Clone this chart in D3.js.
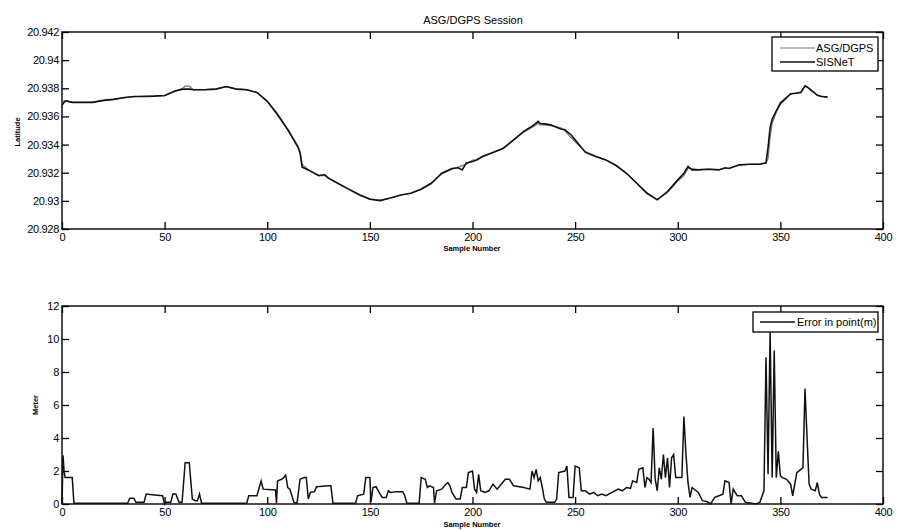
<!DOCTYPE html>
<html>
<head>
<meta charset="utf-8">
<script src="https://cdn.jsdelivr.net/npm/d3@7/dist/d3.min.js"></script>
<style>
  body { margin: 0; background: #fff; }
  svg { font-family: "Liberation Sans", Arial, sans-serif; }
</style>
</head>
<body>
<svg id="chart" width="900" height="530"></svg>
<script>
// ---- data ----
const sampleTop = [0,1,2,5,10,15,20,25,30,35,40,45,50,55,58,60,62,64,65,70,75,80,85,90,95,100,105,110,113,115,116,117,120,125,128,130,135,140,145,150,155,160,165,170,175,180,185,190,193,195,197,200,202,205,210,215,220,225,230,232,233,235,238,240,243,245,248,250,255,260,265,270,275,280,285,290,295,300,303,305,307,310,315,320,323,325,330,335,340,343,344,345,346,348,350,355,358,360,362,363,365,368,370,373];

const sisnet = [20.9368,20.9370,20.9371,20.9370,20.9370,20.9370,20.93714,20.93721,20.93733,20.93742,20.93742,20.93744,20.93749,20.9378,20.93792,20.93794,20.93794,20.9379,20.9379,20.9379,20.93794,20.93813,20.93794,20.9379,20.9377,20.93707,20.93612,20.93505,20.9343,20.9338,20.9334,20.9324,20.9322,20.9318,20.93185,20.9316,20.9312,20.9308,20.93042,20.93011,20.93002,20.9302,20.93042,20.93054,20.93083,20.93125,20.93196,20.9323,20.93235,20.9322,20.9327,20.9328,20.9329,20.93315,20.93344,20.93374,20.93434,20.93493,20.9354,20.93565,20.9355,20.93547,20.9354,20.93529,20.9351,20.93505,20.9347,20.93434,20.93344,20.93315,20.93291,20.93251,20.93196,20.93125,20.93054,20.93007,20.93066,20.93149,20.93196,20.93244,20.9322,20.9322,20.93225,20.9322,20.93235,20.9323,20.93256,20.9326,20.9326,20.9327,20.9338,20.9352,20.9358,20.9364,20.93695,20.93761,20.93765,20.9377,20.93818,20.9381,20.93785,20.9375,20.93742,20.93737];

const asgDgps = [20.9369,20.9371,20.9371,20.9370,20.9370,20.93702,20.93712,20.9372,20.93735,20.9374,20.93744,20.93745,20.93748,20.93778,20.9379,20.93815,20.93815,20.9379,20.9379,20.93792,20.93796,20.9381,20.93796,20.9379,20.93768,20.9371,20.9362,20.9351,20.9344,20.9339,20.9335,20.9326,20.9322,20.93178,20.9318,20.9316,20.9312,20.93082,20.93045,20.93014,20.93005,20.9302,20.9304,20.93056,20.93086,20.93128,20.93192,20.93225,20.9324,20.9325,20.9326,20.9329,20.9329,20.9332,20.93345,20.93372,20.9343,20.9349,20.9353,20.9355,20.9354,20.9354,20.93535,20.9353,20.9352,20.9350,20.9345,20.9342,20.9335,20.93318,20.9329,20.9325,20.93198,20.93128,20.93058,20.9301,20.9306,20.9314,20.9318,20.9323,20.9323,20.93222,20.93226,20.93222,20.9323,20.93232,20.93254,20.9326,20.9326,20.9327,20.9330,20.9345,20.9355,20.9363,20.93685,20.93758,20.9377,20.93775,20.93812,20.9381,20.9379,20.93752,20.93744,20.93738];

const errSample = [0,0.5,1,1.5,5,5.8,32,33,35,36,40,41,45,49,50,50.5,53,54,55.5,57,58.5,60,62,63.5,65,66,67,68,90,91,95,97,98,104,104.5,105,107,108,109,110,111,113,114.5,116,118,119,120,121,123,124,130,131,132,143,144,147,148,150,150.5,151.5,153,155,156,158,159,160,163,166,167,168,174,175,177,178,179,181,181.5,182.5,185,187,188,189,190,191,192,194,195,197,198,200,201,202,203,204,206,208,210,212,214,216,218,220,225,228,229,230,231,232,233,234,235,236,240,241,242,245,246,247,249,250,252,253,255,257,259,261,263,265,268,271,273,275,277,278,280,281,283,284,285,286,287,288,289,290,291,292,293,294,295,296,297,298,299,302,303,304,305,306,307,310,312,314,316,318,320,322,323,325,326,327,329,331,333,338,340,342,343,344,345,346,347,348,349,350,351,353,355,356,358,360,361,362,363,364,365,367,368,369,370,373];

const errMeter = [0,2.95,2.0,1.6,1.6,0.05,0.05,0.35,0.35,0.1,0.1,0.6,0.55,0.5,0.0,0.1,0.1,0.6,0.6,0.1,0.1,2.5,2.5,0.3,0.2,0.2,0.6,0.05,0.05,0.5,0.5,1.4,0.9,0.85,0.05,1.4,1.5,1.6,1.75,1.0,0.9,0.1,0.05,1.5,1.6,1.6,0.3,0.7,0.75,1.05,1.1,1.1,0.05,0.05,0.5,0.6,1.6,1.6,0.1,1.0,1.05,0.6,0.4,0.4,0.8,0.7,0.75,0.75,0.5,0.05,0.05,1.6,1.5,1.0,1.1,1.0,0.05,0.8,0.9,1.2,1.3,1.1,0.7,0.5,0.3,0.3,1.0,1.0,1.9,2.0,0.9,0.7,1.8,0.8,0.7,0.8,1.2,0.9,1.2,1.5,1.5,1.1,1.0,0.9,2.0,1.6,2.1,1.4,1.6,1.0,0.3,0.1,0.1,0.3,1.9,2.0,2.3,0.4,0.4,2.3,2.2,0.8,0.8,0.6,0.7,0.5,0.6,0.5,0.7,0.9,0.8,1.0,0.95,1.4,1.3,2.1,2.2,1.0,1.6,1.5,1.3,4.6,1.5,0.8,2.2,1.5,3.0,1.6,2.8,1.0,2.8,3.0,1.6,1.6,5.3,3.0,1.3,0.4,1.0,0.7,0.2,0.15,0.0,0.4,0.5,0.6,1.4,1.3,0.0,0.9,0.5,0.5,0.1,0.0,0.1,0.8,8.9,1.8,10.5,1.6,9.3,1.6,3.2,1.7,1.6,1.5,1.2,0.5,1.9,2.1,2.2,7.0,4.0,1.2,0.9,0.8,1.3,0.6,0.4,0.4];

const xTicks = [0,50,100,150,200,250,300,350,400];
const yTicksTop = [20.928,20.93,20.932,20.934,20.936,20.938,20.94,20.942];
const yTicksBottom = [0,2,4,6,8,10,12];

const chartTitle = "ASG/DGPS Session";
const xLabel = "Sample Number";
const yLabelTop = "Latitude";
const yLabelBottom = "Meter";
const legendTop = ["ASG/DGPS", "SISNeT"];
const legendBottom = ["Error in point(m)"];

// ---- layout ----
const svg = d3.select("#chart");
const left = 62, right = 883;
const topPanel = { y0: 32, y1: 229 };
const botPanel = { y0: 306, y1: 504 };
const tickLen = 7;

const x = d3.scaleLinear().domain([0, 400]).range([left, right]);

function drawPanel(panel, domain, yTicks, yFmt) {
  const y = d3.scaleLinear().domain(domain).range([panel.y1, panel.y0]);
  const g = svg.append("g");

  const bottom = g.append("g")
    .attr("transform", `translate(0,${panel.y1})`)
    .call(d3.axisBottom(x).tickValues(xTicks).tickSize(-tickLen).tickSizeOuter(0).tickPadding(4));
  const top = g.append("g")
    .attr("transform", `translate(0,${panel.y0})`)
    .call(d3.axisTop(x).tickValues(xTicks).tickSize(-tickLen).tickSizeOuter(0).tickFormat(""));
  const leftAx = g.append("g")
    .attr("transform", `translate(${left},0)`)
    .call(d3.axisLeft(y).tickValues(yTicks).tickSize(-tickLen).tickSizeOuter(0).tickPadding(3).tickFormat(yFmt));
  const rightAx = g.append("g")
    .attr("transform", `translate(${right},0)`)
    .call(d3.axisRight(y).tickValues(yTicks).tickSize(-tickLen).tickSizeOuter(0).tickFormat(""));

  [bottom, top, leftAx, rightAx].forEach(a => {
    a.select(".domain").remove();
    a.selectAll("line").attr("stroke", "#000").attr("stroke-width", 1.3);
    a.selectAll("text").attr("fill", "#000").attr("font-size", 11)
      .attr("letter-spacing", -0.3)
      .attr("font-family", "'Liberation Sans', Arial, sans-serif");
  });

  g.append("rect")
    .attr("x", left).attr("y", panel.y0)
    .attr("width", right - left).attr("height", panel.y1 - panel.y0)
    .attr("fill", "none").attr("stroke", "#000").attr("stroke-width", 1.4);

  return { g, y };
}

// ---- top panel ----
const p1 = drawPanel(topPanel, [20.928, 20.942], yTicksTop, d => String(+d.toFixed(3)));

const lineTop = (vals) => d3.line()
  .x((d, i) => x(sampleTop[i]))
  .y((d) => p1.y(d))(vals);

p1.g.append("path").attr("d", lineTop(asgDgps))
  .attr("fill", "none").attr("stroke", "#777").attr("stroke-width", 1.2);
p1.g.append("path").attr("d", lineTop(sisnet))
  .attr("fill", "none").attr("stroke", "#111").attr("stroke-width", 1.6);

svg.append("text").attr("x", 473).attr("y", 24).attr("text-anchor", "middle")
  .attr("font-size", 11).text(chartTitle);

svg.append("text").attr("x", 472).attr("y", 251).attr("text-anchor", "middle")
  .attr("font-size", 7.5).attr("font-weight", "bold").text(xLabel);

svg.append("text").attr("transform", "translate(20,132) rotate(-90)")
  .attr("text-anchor", "middle").attr("font-size", 7.5).attr("font-weight", "bold")
  .text(yLabelTop);

// legend top
const lg1 = svg.append("g");
lg1.append("rect").attr("x", 772).attr("y", 37).attr("width", 106).attr("height", 34)
  .attr("fill", "#fff").attr("stroke", "#000").attr("stroke-width", 1.3);
const legendColors = ["#777", "#111"];
legendTop.forEach((name, i) => {
  const yy = 48 + i * 14;
  lg1.append("line").attr("x1", 780).attr("x2", 815).attr("y1", yy).attr("y2", yy)
    .attr("stroke", legendColors[i]).attr("stroke-width", i ? 1.6 : 1.2);
  lg1.append("text").attr("x", 816).attr("y", yy + 4).attr("font-size", 11).text(name);
});

// ---- bottom panel ----
const p2 = drawPanel(botPanel, [0, 12], yTicksBottom, d => String(d));

p2.g.append("path")
  .attr("d", d3.line().x((d, i) => x(errSample[i])).y(d => p2.y(d))(errMeter))
  .attr("fill", "none").attr("stroke", "#111").attr("stroke-width", 1.5);

svg.append("text").attr("x", 472).attr("y", 527).attr("text-anchor", "middle")
  .attr("font-size", 7.5).attr("font-weight", "bold").text(xLabel);

svg.append("text").attr("transform", "translate(38,405) rotate(-90)")
  .attr("text-anchor", "middle").attr("font-size", 7.5).attr("font-weight", "bold")
  .text(yLabelBottom);

const lg2 = svg.append("g");
lg2.append("rect").attr("x", 753).attr("y", 312).attr("width", 125).attr("height", 20)
  .attr("fill", "#fff").attr("stroke", "#000").attr("stroke-width", 1.3);
lg2.append("line").attr("x1", 760).attr("x2", 795).attr("y1", 322).attr("y2", 322)
  .attr("stroke", "#111").attr("stroke-width", 1.5);
lg2.append("text").attr("x", 797).attr("y", 326).attr("font-size", 11).text(legendBottom[0]);
</script>
</body>
</html>
